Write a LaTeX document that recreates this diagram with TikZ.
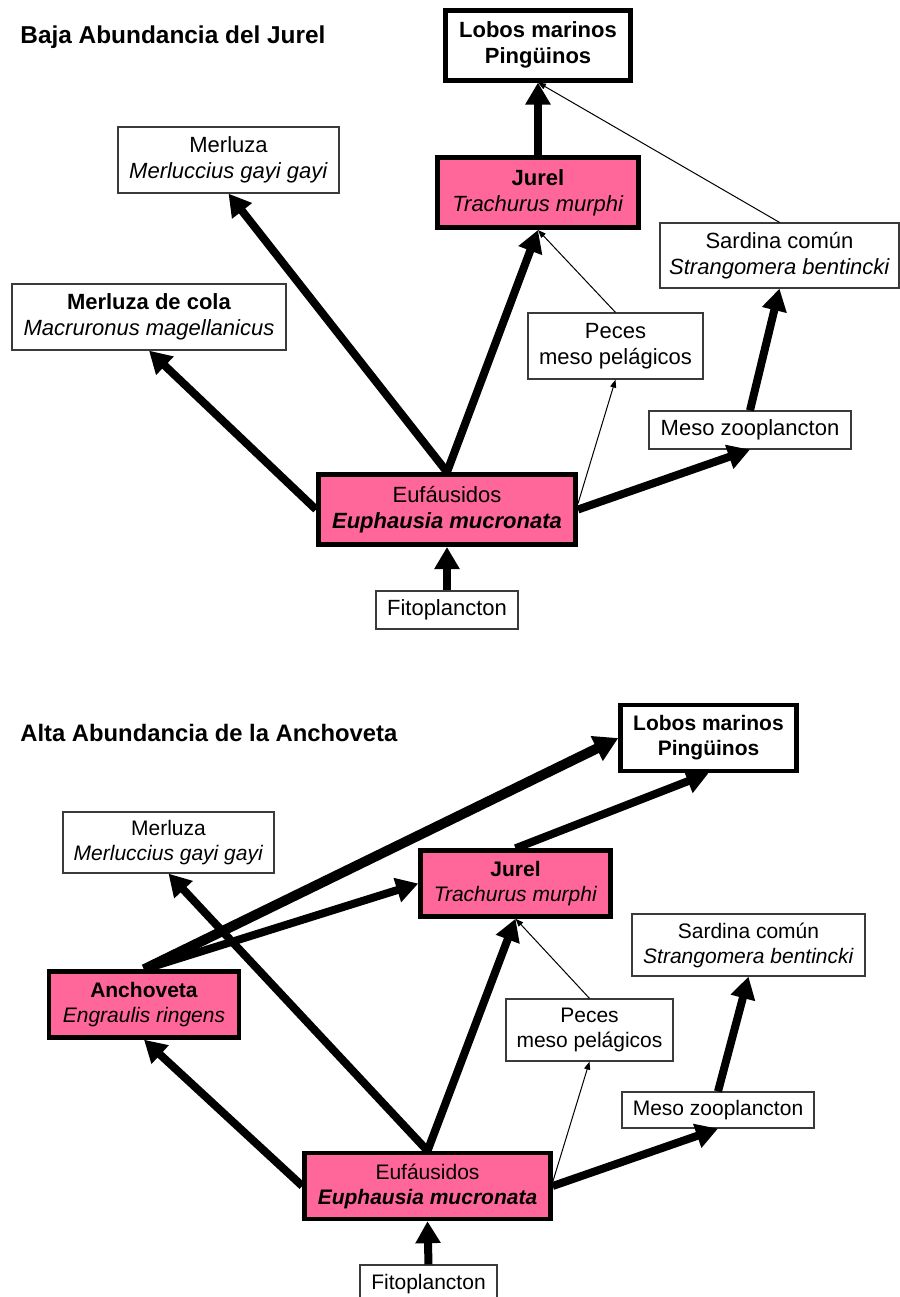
\documentclass[tikz,border=0pt]{standalone}
\usepackage{fontspec}
\setmainfont{Liberation Sans}
\usetikzlibrary{arrows.meta}
\definecolor{rosa}{HTML}{FF6699}
\definecolor{bordegris}{HTML}{3A3A3A}
\begin{document}
\begin{tikzpicture}[x=0.5pt,y=-0.5pt,
  titlet/.style={inner sep=0pt, font=\fontsize{12.2}{14}\selectfont\bfseries},
  titleb/.style={inner sep=0pt, font=\fontsize{11.9}{14}\selectfont\bfseries},
  topfont/.style={font=\fontsize{11}{13}\selectfont},
  botfont/.style={font=\fontsize{10.5}{12.5}\selectfont},
  tbox/.style={draw=bordegris, line width=0.6pt, fill=white, inner sep=0pt, align=center},
  pbox/.style={draw=black, line width=2.5pt, fill=rosa, inner sep=0pt, align=center},
  wbox/.style={draw=black, line width=2.5pt, fill=white, inner sep=0pt, align=center},
  bigarrow/.style={line width=4pt, -{Triangle[length=11pt,width=12pt]}},
  hugearrow/.style={line width=5pt, -{Triangle[length=12pt,width=13pt]}},
  smallarrow/.style={line width=0.5pt, -{Triangle[length=4pt,width=3pt]}}
]
\fill[white] (0,0) rectangle (900,1297);
\useasboundingbox (0,0) rectangle (900,1297);

% ---------- Titles ----------
\node[titlet, anchor=base west] (t1) at (20,43) {Baja Abundancia del Jurel};
\node[titleb, anchor=base west] (t2) at (20,741) {Alta Abundancia de la Anchoveta};

% ---------- Top panel ----------
\node[wbox, topfont, minimum width=92.5pt, minimum height=35pt] (lobos1) at (538,45) {\textbf{Lobos marinos}\\\textbf{Pingüinos}};
\node[pbox, topfont, minimum width=100.5pt, minimum height=35pt] (jurel1) at (538,192.5) {\textbf{Jurel}\\\textit{Trachurus murphi}};
\node[tbox, topfont, minimum width=110.5pt, minimum height=33pt] (merl1) at (228.5,160) {Merluza\\\textit{Merluccius gayi gayi}};
\node[tbox, topfont, minimum width=137pt, minimum height=33pt] (cola) at (149,317) {\textbf{Merluza de cola}\\\textit{Macruronus magellanicus}};
\node[tbox, topfont, minimum width=119.5pt, minimum height=32.5pt] (sard1) at (779.5,255.5) {Sardina común\\\textit{Strangomera bentincki}};
\node[tbox, topfont, minimum width=87.5pt, minimum height=33pt] (peces1) at (615.5,346) {Peces\\meso pelágicos};
\node[tbox, topfont, minimum width=101pt, minimum height=19pt] (meso1) at (750,430) {Meso zooplancton};
\node[pbox, topfont, minimum width=128.5pt, minimum height=35pt] (euf1) at (447,509.5) {Eufáusidos\\\textbf{\textit{Euphausia mucronata}}};
\node[tbox, topfont, minimum width=71pt, minimum height=19pt] (fito1) at (447,610) {Fitoplancton};

\draw[bigarrow] (fito1.north) -- (euf1.south);
\draw[bigarrow] (euf1.west) -- (cola.south);
\draw[bigarrow] (euf1.north) -- (merl1.south);
\draw[bigarrow] (euf1.north) -- (jurel1.south);
\draw[bigarrow] (jurel1.north) -- (lobos1.south);
\draw[smallarrow] (sard1.north) -- (lobos1.south);
\draw[smallarrow] (peces1.north) -- (jurel1.south);
\draw[smallarrow] ([yshift=3pt]euf1.east) -- (peces1.south);
\draw[bigarrow] (euf1.east) -- (meso1.south);
\draw[bigarrow] (meso1.north) -- (sard1.south);

% ---------- Bottom panel ----------
\node[wbox, botfont, line width=2.2pt, minimum width=88pt, minimum height=33pt] (lobos2) at (708.5,738) {\textbf{Lobos marinos}\\\textbf{Pingüinos}};
\node[tbox, botfont, minimum width=105.5pt, minimum height=30.5pt] (merl2) at (168.5,842.5) {Merluza\\\textit{Merluccius gayi gayi}};
\node[pbox, botfont, line width=2.2pt, minimum width=95pt, minimum height=33pt] (jurel2) at (515.5,883.5) {\textbf{Jurel}\\\textit{Trachurus murphi}};
\node[tbox, botfont, minimum width=116.5pt, minimum height=31pt] (sard2) at (748.5,945) {Sardina común\\\textit{Strangomera bentincki}};
\node[pbox, botfont, line width=2.2pt, minimum width=95pt, minimum height=33pt] (anch) at (144,1004.5) {\textbf{Anchoveta}\\\textit{Engraulis ringens}};
\node[tbox, botfont, minimum width=83.5pt, minimum height=31pt] (peces2) at (589.5,1030) {Peces\\meso pelágicos};
\node[tbox, botfont, minimum width=96pt, minimum height=18pt] (meso2) at (718,1110) {Meso zooplancton};
\node[pbox, botfont, line width=2.2pt, minimum width=123pt, minimum height=33pt] (euf2) at (427.5,1186) {Eufáusidos\\\textbf{\textit{Euphausia mucronata}}};
\node[tbox, botfont, minimum width=68.5pt, minimum height=19pt] (fito2) at (428.5,1284) {Fitoplancton};

\draw[bigarrow] (fito2.north) -- (euf2.south);
\draw[bigarrow] (euf2.west) -- (anch.south);
\draw[bigarrow] (euf2.north) -- (merl2.south);
\draw[bigarrow] (euf2.north) -- (jurel2.south);
\draw[smallarrow] (peces2.north) -- (jurel2.south);
\draw[smallarrow] ([yshift=2pt]euf2.east) -- (peces2.south);
\draw[bigarrow] (euf2.east) -- (meso2.south);
\draw[bigarrow] (meso2.north) -- (sard2.south);
\draw[hugearrow] (anch.north) -- (lobos2.west);
\draw[bigarrow] (anch.north) -- (jurel2.west);
\draw[bigarrow] (jurel2.north) -- (lobos2.south);
\end{tikzpicture}
\end{document}
